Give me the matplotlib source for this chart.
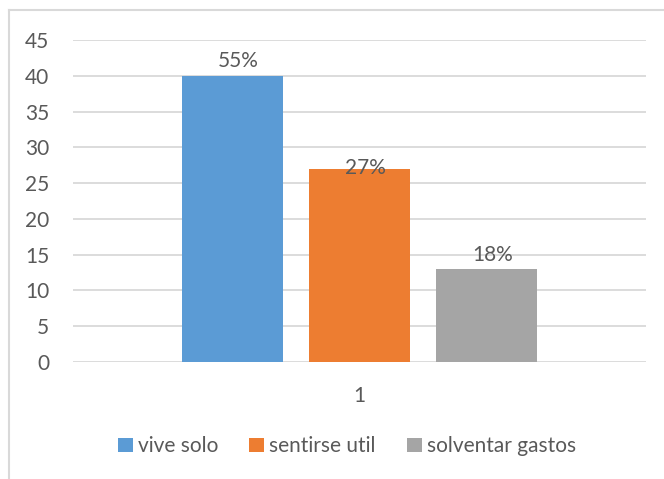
import matplotlib
matplotlib.use("Agg")
import matplotlib.pyplot as plt
from matplotlib.lines import Line2D
from matplotlib.patches import Patch

# datos del grafico
series = ["vive solo", "sentirse util", "solventar gastos"]
valores = [40, 27, 13]
etiquetas = ["55%", "27%", "18%"]
categorias = ["1"]
colores = ["#5B9BD5", "#ED7D31", "#A5A5A5"]

plt.rcParams["font.family"] = ["Lato", "DejaVu Sans"]
texto = "#595959"
fs = 15

fig = plt.figure(figsize=(6.64, 4.79), dpi=100)
W, H = 664, 479
ax = fig.add_axes([73 / W, 1 - 362 / H, (646 - 73) / W, (362 - 40) / H])

ancho = 101 / 573
paso = 127 / 573
for i, (v, c) in enumerate(zip(valores, colores)):
    x = (i - 1) * paso
    ax.bar(x, v, width=ancho, color=c, zorder=3, label=series[i])

# etiquetas de datos (el 27% queda algo mas bajo en el original)
desplaz = [5, -9, 4]
for i, (v, t) in enumerate(zip(valores, etiquetas)):
    x = (i - 1) * paso
    ax.annotate(t, (x, v), xytext=(6, desplaz[i]), textcoords="offset pixels",
                ha="center", va="bottom", fontsize=fs, color=texto)

ax.set_xlim(-0.5, 0.5)
ax.set_ylim(0, 45)
ax.set_yticks(range(0, 46, 5))
ax.set_xticks([0])
ax.set_xticklabels(categorias)
ax.tick_params(length=0, labelsize=fs, labelcolor=texto)
ax.tick_params(axis="y", pad=17)
ax.tick_params(axis="x", pad=17)
ax.grid(axis="y", color="#D9D9D9", linewidth=1.3, zorder=0)
for s in ax.spines.values():
    s.set_visible(False)

handles = [Patch(facecolor=c, edgecolor="none") for c in colores]
fig.legend(handles, series, loc="center", bbox_to_anchor=(347 / W, 1 - 446 / H),
           ncol=3, frameon=False, fontsize=fs, labelcolor=texto,
           handlelength=0.7, handleheight=0.65, handletextpad=0.25,
           columnspacing=1.5)

# borde del area del grafico (solo arriba e izquierda visibles)
fig.add_artist(Line2D([9 / W, 1], [1 - 10 / H, 1 - 10 / H], color="#D9D9D9", linewidth=1.5))
fig.add_artist(Line2D([9 / W, 9 / W], [0, 1 - 10 / H], color="#D9D9D9", linewidth=1.5))

fig.savefig("out.png", dpi=100)
